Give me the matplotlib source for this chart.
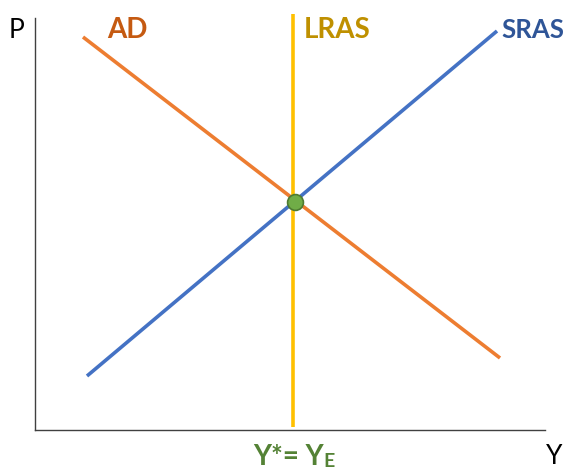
import matplotlib
matplotlib.use('Agg')
import matplotlib.pyplot as plt

# axis lengths (arbitrary units)
x_max = 510
y_max = 412

ad_x = [48, 465]
ad_y = [393, 72]
sras_x = [52, 462]
sras_y = [54, 399]
lras_x = 258
lras_y = [3, 416]
eq_x = 260
eq_y = 228

fig = plt.figure(figsize=(5.64, 4.69), dpi=100)
ax = fig.add_axes([35/564, 39/469, 510/564, 412/469])
ax.set_xlim(0, x_max)
ax.set_ylim(0, y_max)

for s in ['top', 'right']:
    ax.spines[s].set_visible(False)
for s in ['left', 'bottom']:
    ax.spines[s].set_color('#404040')
    ax.spines[s].set_linewidth(1.0)
ax.set_xticks([])
ax.set_yticks([])

ax.plot(ad_x, ad_y, color='#ED7D31', lw=2.6, solid_capstyle='butt')
ax.plot(sras_x, sras_y, color='#4472C4', lw=2.6, solid_capstyle='butt')
ax.plot([lras_x, lras_x], lras_y, color='#FFC000', lw=2.6, clip_on=False, solid_capstyle='butt')
ax.scatter([eq_x], [eq_y], s=130, color='#70AD47', edgecolor='#4E7A31', lw=1.2, zorder=5)

font = 'Lato'
fig.text(107/564, 1 - 30/469, 'AD', color='#C55A11', fontsize=20, fontweight='bold',
         family=font, va='center', ha='left')
fig.text(304/564, 1 - 30/469, 'LRAS', color='#BF9000', fontsize=20, fontweight='bold',
         family=font, va='center', ha='left')
# keep SRAS inside the figure edge
fig.text(501/564, 1 - 30/469, 'SRAS', color='#2F5597', fontsize=18.5, fontweight='bold',
         family=font, va='center', ha='left')
fig.text(9/564, 1 - 30/469, 'P', color='black', fontsize=19, family=font,
         va='center', ha='left')
fig.text(546/564, 1 - 456/469, 'Y', color='black', fontsize=19, family=font,
         va='center', ha='left')

t1 = fig.text(253/564, 1 - 465/469, 'Y*= Y', color='#548235', fontsize=20,
              fontweight='bold', family=font, va='baseline', ha='left')
ax.annotate('E', xy=(1, 0), xytext=(0, 0), xycoords=t1, textcoords='offset points',
            color='#548235', fontsize=14, fontweight='bold', family=font,
            va='bottom', ha='left', annotation_clip=False)

fig.savefig('out.png', dpi=100)
